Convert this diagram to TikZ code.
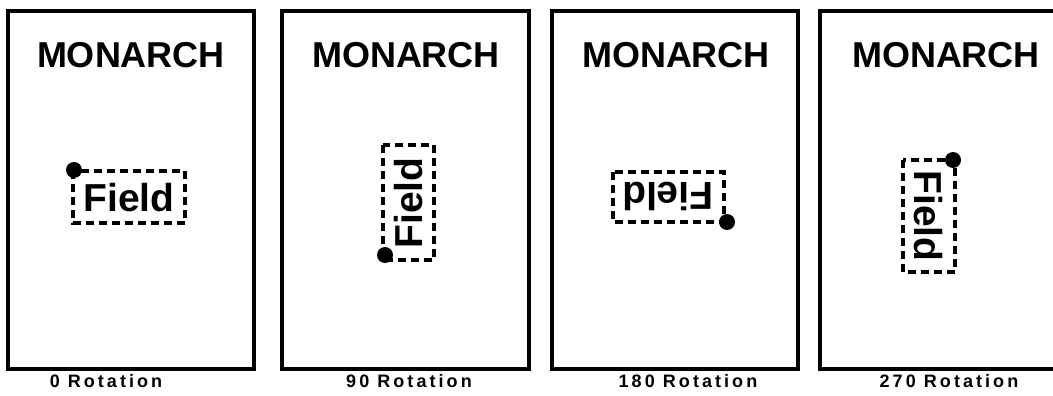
\documentclass[tikz,border=0pt]{standalone}
\usepackage{fontspec}
\setmainfont{Liberation Sans}
\begin{document}
\begin{tikzpicture}[x=1pt,y=-1pt,
  panel/.style={draw,line width=4pt},
  title/.style={font=\fontsize{36}{40}\selectfont\bfseries,inner sep=0pt},
  fieldtxt/.style={font=\fontsize{39}{42}\selectfont\bfseries,inner sep=0pt},
  fieldbox/.style={draw,line width=3.5pt,dash pattern=on 8pt off 5pt},
  caption/.style={font=\fontsize{18}{20}\selectfont\bfseries\addfontfeature{LetterSpace=17},inner sep=0pt},
  origin/.style={fill,circle,minimum size=16pt,inner sep=0pt}]
\useasboundingbox (0,0) rectangle (1053,396);
\clip (0,0) rectangle (1053,396);
% panels
\draw[panel] (8,11) rectangle (254,369);
\draw[panel] (282,11) rectangle (529,369);
\draw[panel] (552,11) rectangle (798,369);
\draw[panel] (820,11) rectangle (1068,369);
% titles
\node[title] (t1) at (131,55) {MONARCH};
\node[title] (t2) at (406,55) {MONARCH};
\node[title] (t3) at (676,55) {MONARCH};
\node[title] (t4) at (946,55) {MONARCH};
% fields
\draw[fieldbox] (73,171) rectangle (185,223);
\node[fieldtxt] (f1) at (129,198) {Field};
\node[origin] (o1) at (74,170) {};
\draw[fieldbox] (383,145) rectangle (434,260);
\node[fieldtxt,rotate=90] (f2) at (409,203) {Field};
\node[origin] (o2) at (385,255) {};
\draw[fieldbox] (613,172) rectangle (724,222);
\node[fieldtxt,rotate=180] (f3) at (668,196) {Field};
\node[origin] (o3) at (727,222) {};
\draw[fieldbox] (903,160) rectangle (955,272);
\node[fieldtxt,rotate=270] (f4) at (928,216) {Field};
\node[origin] (o4) at (953,160) {};
% captions
\node[caption] (c1) at (106,381) {0 Rotation};
\node[caption] (c2) at (409,381) {90 Rotation};
\node[caption] (c3) at (688,381) {180 Rotation};
\node[caption] (c4) at (949,381) {270 Rotation};
\end{tikzpicture}
\end{document}
